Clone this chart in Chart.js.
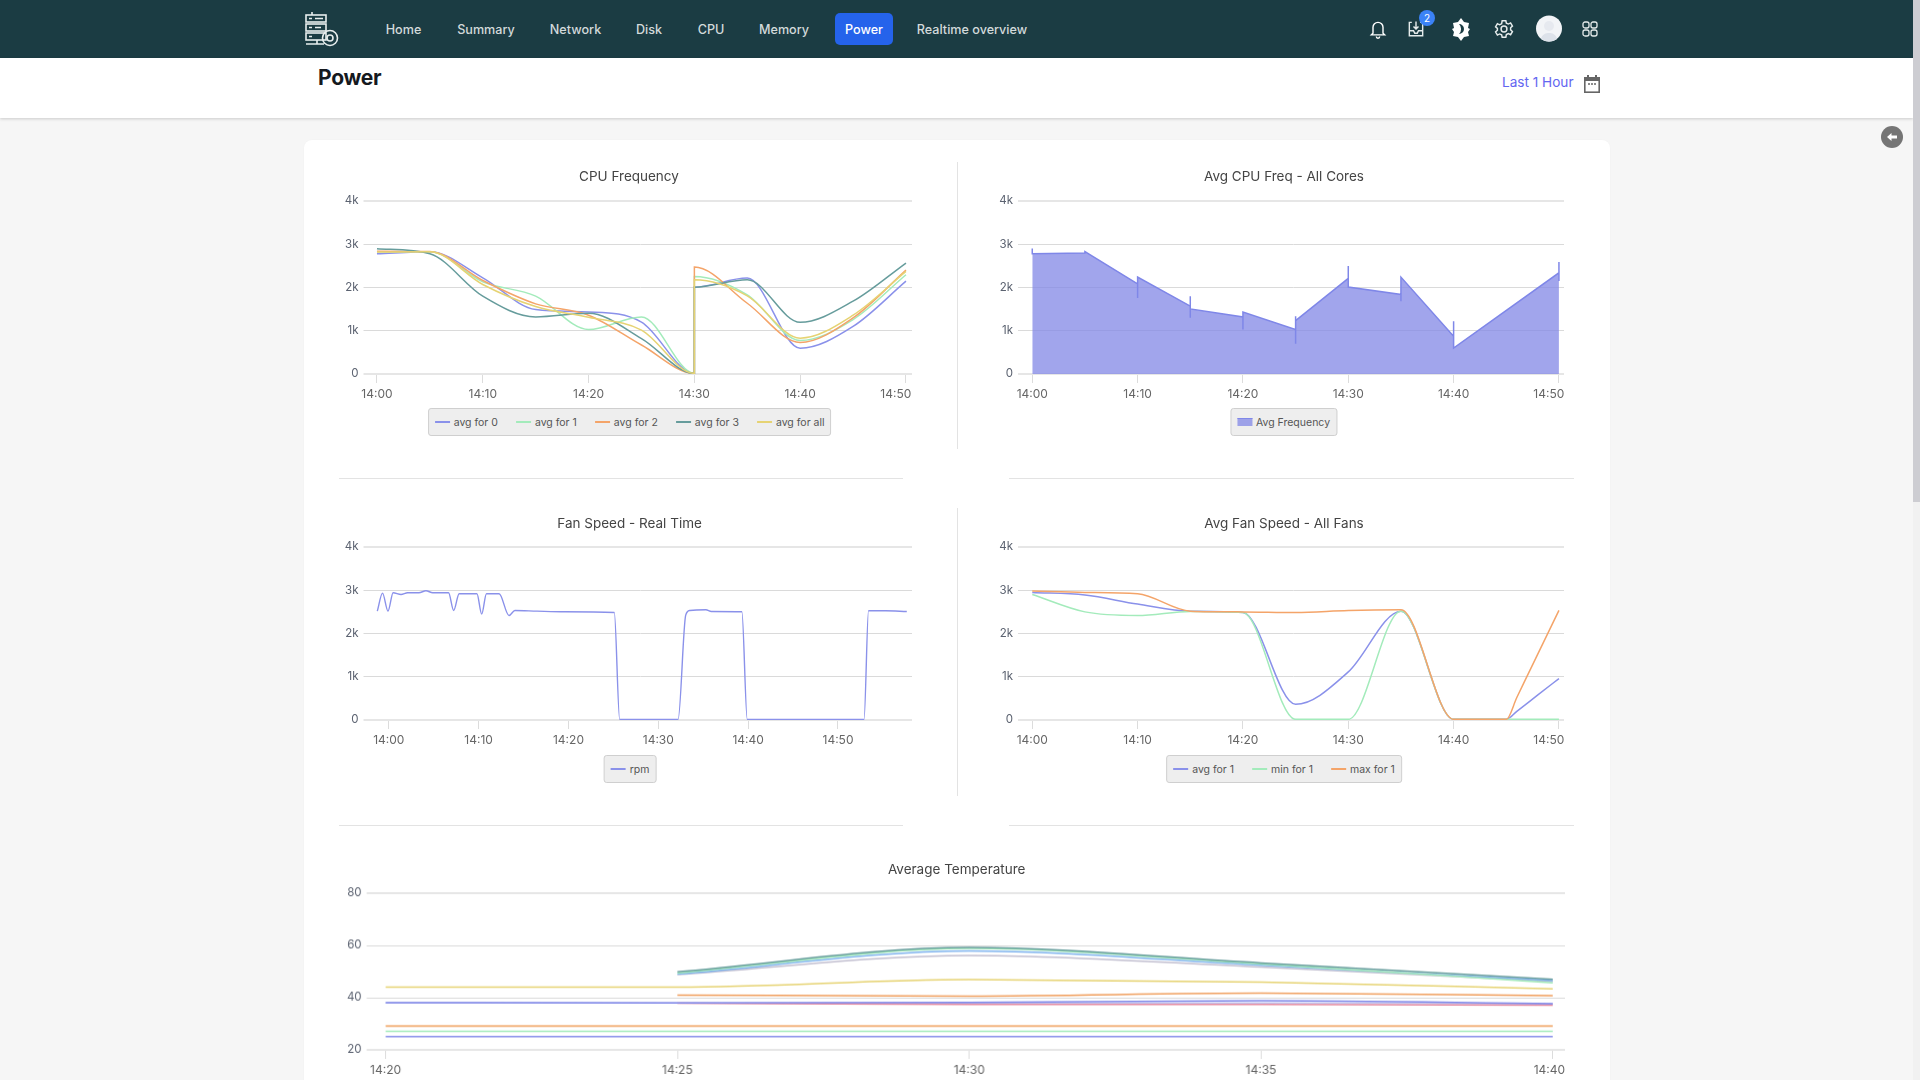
<!DOCTYPE html>
<html>
<head>
<meta charset="utf-8">
<title>Power</title>
<script src="https://cdn.jsdelivr.net/npm/chart.js@4/dist/chart.umd.min.js"></script>
<style>
  html, body { margin: 0; padding: 0; width: 1920px; height: 1080px; overflow: hidden; background: #f6f6f6; font-family: Inter, "Noto Sans", sans-serif; }
  .abs { position: absolute; }
  #nav { left: 0; top: 0; width: 1913px; height: 58px; background: #1b3c43; }
  .nav-item { position: absolute; top: 28.5px; transform: translate(-50%, -50%); color: #d3dadb; font-size: 12.6px; font-weight: 500; white-space: nowrap; }
  #pill { left: 835px; top: 13px; width: 58px; height: 32px; background: #2563eb; border-radius: 5px; }
  #sub { left: 0; top: 58px; width: 1913px; height: 60px; background: #fff; box-shadow: 0 1px 3px rgba(0,0,0,.18); }
  #heading { left: 318px; top: 64.5px; font-size: 21px; font-weight: 700; color: #15191e; letter-spacing: -0.3px; }
  #range { left: 1502px; top: 74px; font-size: 13.6px; color: #6366f1; white-space: nowrap; }
  #card { left: 304px; top: 140px; width: 1306px; height: 960px; background: #fff; border-radius: 8px; box-shadow: 0 0 2px rgba(0,0,0,.03); }
  .vline { width: 1px; background: #e3e3e3; }
  .hline { height: 1px; background: #e3e3e3; }
  canvas { position: absolute; }
  .chart-title { position: absolute; transform: translate(-50%, -50%); font-size: 13.5px; color: #444; white-space: nowrap; }
  .legend { position: absolute; transform: translateX(-50%); height: 26px; display: inline-flex; align-items: center; gap: 18px; padding: 0 6px; background: #eeeeee; border: 1px solid #cfcfcf; border-radius: 3px; font-size: 10.5px; color: #555; white-space: nowrap; }
  .legend span { display: inline-flex; align-items: center; gap: 4px; }
  .legend i { display: inline-block; width: 15px; height: 2px; }
  #sb-track { left: 1913px; top: 0; width: 7px; height: 1080px; background: #f1f1f1; }
  #sb-thumb { left: 1913px; top: 0; width: 7px; height: 502px; background: #cdcdd2; }
</style>
</head>
<body>
<div class="abs" id="nav"></div>
<div class="abs" id="pill"></div>
<div class="abs" id="sub"></div>
<div class="abs" id="heading">Power</div>
<div class="abs" id="range">Last 1 Hour</div>
<div class="abs" id="card"></div>
<div class="abs" id="sb-track"></div>
<div class="abs" id="sb-thumb"></div>

<svg class="abs" style="left:304px;top:10px" width="36" height="38" viewBox="0 0 36 38" fill="none" stroke="#e8eeee" stroke-width="1.6">
  <rect x="2" y="5" width="20" height="7"/><rect x="2" y="14" width="20" height="7"/><rect x="2" y="23" width="20" height="7"/>
  <path d="M5 8.5h3M11 8.5h8M5 17.5h3M11 17.5h6M5 26.5h3"/><path d="M8 5V2M2 34h18M13 30v4"/>
  <circle cx="26" cy="28" r="7.5"/><circle cx="26" cy="28" r="3"/>
</svg>
<svg class="abs" style="left:1368px;top:19px" width="20" height="20" viewBox="0 0 24 24" fill="none" stroke="#fff" stroke-width="1.7">
  <path d="M6 17V10a6 6 0 0 1 12 0v7l2 2H4z"/><path d="M10 21a2 2 0 0 0 4 0"/>
</svg>
<svg class="abs" style="left:1406px;top:19px" width="20" height="20" viewBox="0 0 24 24" fill="none" stroke="#e6ecec" stroke-width="1.7">
  <path d="M7 4H4v16h16V4h-3M4 14h5l1.5 3h3L15 14h5M12 3v9M9 9l3 3 3-3"/>
</svg>
<svg class="abs" style="left:1419px;top:10px" width="16" height="16" viewBox="0 0 16 16">
  <circle cx="8" cy="8" r="8" fill="#3b82f6"/><text x="8" y="11.5" text-anchor="middle" font-size="10" fill="#fff" font-family="Inter">2</text>
</svg>
<svg class="abs" style="left:1450px;top:17px" width="22" height="24" viewBox="0 0 22 24">
  <path d="M11 1l3 4 5 1 -1 5 2 1 -2 3 1 4 -5 1 -3 4 -3-4 -5-1 1-4 -2-3 2-1 -1-5 5-1z" fill="#fff"/>
  <path d="M9 7a5 5 0 0 1 0 10 7 7 0 0 0 0-10z" fill="#1b3c43"/>
</svg>
<svg class="abs" style="left:1493px;top:18px" width="22" height="22" viewBox="0 0 24 24" fill="none" stroke="#e6ecec" stroke-width="1.6">
  <circle cx="12" cy="12" r="3.2"/>
  <path d="M10 3h4l.6 2.6 2.2 1 2.4-1.2 2 3.4-2 1.8v2.4l2 1.8-2 3.4-2.4-1.2-2.2 1L14 21h-4l-.6-2.6-2.2-1-2.4 1.2-2-3.4 2-1.8V11.4l-2-1.8 2-3.4 2.4 1.2 2.2-1z"/>
</svg>
<svg class="abs" style="left:1536px;top:15px" width="26" height="27" viewBox="0 0 26 27">
  <circle cx="13" cy="13.5" r="13" fill="#f2f4f7"/>
  <path d="M5 24c1-5 5-6 8-6s7 1 8 6a13 13 0 0 1-16 0z" fill="#dde2ea"/><circle cx="13" cy="11" r="5" fill="#e6e9ef"/>
</svg>
<svg class="abs" style="left:1582px;top:21px" width="16" height="16" viewBox="0 0 16 16" fill="none" stroke="#e6ecec" stroke-width="1.3">
  <rect x="1" y="1" width="6" height="6" rx="2"/><rect x="9" y="1" width="6" height="6" rx="2"/>
  <rect x="1" y="9" width="6" height="6" rx="2"/><rect x="9" y="9" width="6" height="6" rx="2"/>
</svg>
<svg class="abs" style="left:1583px;top:74px" width="18" height="20" viewBox="0 0 18 20">
  <path d="M1 3h3V1h2v2h6V1h2v2h3v16H1z" fill="#666"/><rect x="2.6" y="7" width="12.8" height="10.4" fill="#fff"/>
  <path d="M5 10h2M8 10h2M11 10h2" stroke="#666" stroke-width="1.4"/>
</svg>
<svg class="abs" style="left:1881px;top:126px" width="22" height="22" viewBox="0 0 22 22">
  <circle cx="11" cy="11" r="11" fill="#757575"/><path d="M6 11l4.5-4v2.6H16v2.8h-5.5V15z" fill="#fff"/>
</svg>

<div class="abs vline" style="left:957px;top:162px;height:287px"></div>
<div class="abs vline" style="left:957px;top:508px;height:288px"></div>
<div class="abs hline" style="left:339px;top:478px;width:564px"></div>
<div class="abs hline" style="left:1009px;top:478px;width:565px"></div>
<div class="abs hline" style="left:339px;top:825px;width:564px"></div>
<div class="abs hline" style="left:1009px;top:825px;width:565px"></div>

<script>
// menu
const navLabels = ["Home", "Summary", "Network", "Disk", "CPU", "Memory", "Power", "Realtime overview"];
const navCenters = [403.5, 486, 575.5, 649, 711, 784, 864, 972];

// cpu frequency, one reading every 5 min, the jump at 14:30 is two readings
const cpuMinutes = [0, 5, 10, 15, 20, 25, 30, 30, 35, 40, 45, 50];
const cpuCore0 = [2780, 2826, 2224, 1490, 1436, 1200, 15, 2008, 2217, 597, 1100, 2147];
const cpuCore1 = [2826, 2826, 2131, 1800, 1027, 1320, 15, 2256, 1830, 775, 1259, 2295];
const cpuCore2 = [2840, 2834, 2162, 1622, 1359, 670, 15, 2473, 1636, 729, 1297, 2403];
const cpuCore3 = [2896, 2780, 1800, 1320, 1405, 820, 15, 2008, 2178, 1194, 1683, 2566];
const cpuAll = [2818, 2826, 2070, 1560, 1313, 1015, 15, 2178, 1806, 829, 1359, 2372];

// avg frequency area, the spikes are repeated minutes
const avgFreqMinutes = [0, 0, 0, 5, 5, 10, 10, 10, 15, 15, 15, 15, 20, 20, 20, 25, 25, 25, 25, 30, 30, 30, 35, 35, 35, 40, 40, 40, 50, 50, 50];
const avgFreqValues = [2900, 2780, 2780, 2800, 2830, 2085, 1760, 2240, 1570, 1800, 1300, 1505, 1320, 1030, 1430, 1030, 700, 1335, 1235, 2210, 2495, 2010, 1840, 1680, 2240, 870, 1220, 600, 2340, 2590, 2150];

// fan speed real time
const rpmMinutes = [-1.28, -0.7, -0.09, 0.48, 1.36, 2.1, 3.35, 4.14, 4.89, 6.65, 7.22, 7.83, 9.81, 10.34, 10.87, 12.28, 13.38, 14.04, 16.5, 19.6, 25.1, 25.7, 32.2, 33.05, 33.5, 35.3, 35.9, 39.3, 39.9, 52.9, 53.4, 55.3, 57.66];
const rpmValues = [2517, 2934, 2517, 2942, 2903, 2942, 2942, 2988, 2942, 2942, 2533, 2919, 2919, 2448, 2919, 2919, 2417, 2533, 2517, 2502, 2486, 15, 15, 2425, 2533, 2548, 2510, 2502, 15, 15, 2525, 2525, 2510];

// avg fan speed
const fanMinutes = [0, 5, 10, 15, 20, 25, 30, 35, 40, 45, 46, 48, 50];
const fanAvg = [2950, 2890, 2680, 2517, 2486, 363, 1112, 2517, 15, 15, 200, 580, 958];
const fanMin = [2903, 2500, 2417, 2510, 2486, 15, 15, 2517, 15, 15, 15, 15, 15];
const fanMax = [2980, 2950, 2919, 2517, 2500, 2486, 2533, 2548, 15, 15, 520, 1530, 2533];

// temperatures
const tempMinutes = [20, 25, 30, 35, 40];
const tempTeal = [null, 49.9, 59.2, 53.3, 47];
const tempGreen = [null, 49.4, 58.8, 52.9, 45.7];
const tempSky = [null, 49, 57.9, 52.4, 46.5];
const tempLilac = [null, 48.8, 56.2, 51.7, 46.2];
const tempYellow = [44, 44, 46.9, 46, 43.4];
const tempOrange = [null, 41, 40.6, 41.7, 40.8];
const tempBlue = [38.1, 38, 38.2, 38.8, 37.7];
const tempPale = [38, 38, 37.8, 38, 37.6];
const tempRed = [null, 37.9, 37.4, 37.4, 37.1];
const tempFlatOrange = [29.1, 29.1, 29.1, 29.1, 29.1];
const tempFlatGreen = [27.1, 27.1, 27.1, 27.1, 27.1];
const tempFlatBlue = [25.1, 25.1, 25.1, 25.1, 25.1];

const BLUE = "#8a91ea";
const GREEN = "#a3ebbb";
const ORANGE = "#f4a469";
const TEAL = "#669c9c";
const YELLOW = "#e6d373";

const zip = (xs, ys) => xs.map((x, i) => ({ x, y: ys[i] }));

navLabels.forEach((label, i) => {
  const el = document.createElement("div");
  el.className = "nav-item";
  el.textContent = label;
  el.style.left = navCenters[i] + "px";
  if (label === "Power") el.style.color = "#fff";
  document.body.appendChild(el);
});

function line(label, xs, ys, color, width) {
  return {
    label,
    data: zip(xs, ys),
    borderColor: color,
    backgroundColor: color,
    borderWidth: width || 1.5,
    pointRadius: 0,
    cubicInterpolationMode: "monotone",
    spanGaps: false,
  };
}

function makeChart(box) {
  const canvas = document.createElement("canvas");
  canvas.width = box.width;
  canvas.height = box.height;
  canvas.style.left = box.left + "px";
  canvas.style.top = box.top + "px";
  canvas.style.width = box.width + "px";
  canvas.style.height = box.height + "px";
  document.body.appendChild(canvas);

  // title sits off the plot centre in the reference, so it is a div and not the chart title
  const heading = document.createElement("div");
  heading.className = "chart-title";
  heading.textContent = box.title;
  heading.style.left = box.titleX + "px";
  heading.style.top = box.top + 15.5 + "px";
  document.body.appendChild(heading);

  // chart.js puts the first dataset on top, the reference has the last one on top
  box.datasets.forEach((ds, i) => { ds.order = -i; });

  const chart = new Chart(canvas, {
    type: "line",
    data: { datasets: box.datasets },
    options: {
      responsive: false,
      animation: false,
      devicePixelRatio: 1,
      layout: { padding: { right: 28, left: 0, top: 40, bottom: 0 } },
      plugins: {
        legend: { display: false },
        tooltip: { enabled: false },
      },
      scales: {
        x: {
          type: "linear",
          min: box.xMin,
          max: box.xMax,
          border: { display: false },
          grid: { drawOnChartArea: false, drawTicks: true, tickLength: 9, color: "#dcdcdc", lineWidth: 1 },
          ticks: {
            stepSize: box.xStep,
            includeBounds: false,
            autoSkip: false,
            maxRotation: 0,
            padding: 4,
            color: "#666",
            font: { family: "Inter", size: 12 },
            callback: (v) => {
              const label = "14:" + String(v).padStart(2, "0");
              return v === box.lastTick ? label + "\u00a0".repeat(box.lastShift) : label;
            },
          },
          afterFit: (scale) => { scale.height = 30; },
        },
        y: {
          min: box.yMin,
          max: box.yMax,
          border: { display: false },
          grid: {
            tickLength: 5,
            color: (ctx) => (ctx.index === 0 || ctx.index === box.yCount - 1 ? "#e6e6e6" : "#dadada"),
            lineWidth: (ctx) => (ctx.index === 0 || ctx.index === box.yCount - 1 ? 2 : 1),
          },
          ticks: {
            stepSize: box.yStep,
            padding: 5,
            color: "#5b6270",
            font: { family: "Inter", size: 11.5 },
            callback: box.yLabel,
          },
          afterFit: (scale) => { scale.width = box.yWidth; },
        },
      },
    },
  });

  if (box.legendX) {
    const legend = document.createElement("div");
    legend.className = "legend";
    legend.style.left = box.legendX + "px";
    legend.style.top = box.legendY + "px";
    chart.data.datasets.forEach((ds) => {
      const item = document.createElement("span");
      const swatch = document.createElement("i");
      swatch.style.background = ds.legendFill || ds.borderColor;
      if (ds.legendFill) {
        swatch.style.height = "7px";
        swatch.style.borderTop = "1px solid " + ds.borderColor;
      }
      item.appendChild(swatch);
      item.appendChild(document.createTextNode(ds.label));
      legend.appendChild(item);
    });
    document.body.appendChild(legend);
  }
  return chart;
}

const kLabel = (v) => (v === 0 ? "0" : v / 1000 + "k");
const rpmAxis = { yMin: 0, yMax: 4000, yStep: 1000, yCount: 5, yLabel: kLabel, xStep: 10, height: 243, lastTick: 50, lastShift: 6 };

makeChart({
  ...rpmAxis, title: "CPU Frequency", titleX: 629, left: 318, top: 160.7, width: 622, yWidth: 50.5,
  xMin: -0.8, xMax: 50.57, legendX: 629.6, legendY: 408,
  datasets: [
    line("avg for 0", cpuMinutes, cpuCore0, BLUE),
    line("avg for 1", cpuMinutes, cpuCore1, GREEN),
    line("avg for 2", cpuMinutes, cpuCore2, ORANGE),
    line("avg for 3", cpuMinutes, cpuCore3, TEAL),
    line("avg for all", cpuMinutes, cpuAll, YELLOW),
  ],
});

makeChart({
  ...rpmAxis, title: "Avg CPU Freq - All Cores", titleX: 1284, left: 976, top: 160.7, width: 616, yWidth: 47,
  xMin: -0.88, xMax: 50.48, legendX: 1283.5, legendY: 408,
  datasets: [{
    label: "Avg Frequency",
    data: zip(avgFreqMinutes, avgFreqValues),
    borderColor: "#7f87e8",
    backgroundColor: "rgba(129,135,230,0.75)",
    legendFill: "rgba(129,135,230,0.75)",
    borderWidth: 1.5,
    pointRadius: 0,
    tension: 0,
    fill: "origin",
  }],
});

makeChart({
  ...rpmAxis, title: "Fan Speed - Real Time", titleX: 629.6, left: 318, top: 507.3, width: 622, yWidth: 50.5,
  xMin: -2.26, xMax: 58.24, lastShift: 0, legendX: 630, legendY: 755,
  datasets: [line("rpm", rpmMinutes, rpmValues, BLUE, 1.4)],
});

makeChart({
  ...rpmAxis, title: "Avg Fan Speed - All Fans", titleX: 1284, left: 976, top: 507.3, width: 616, yWidth: 47,
  xMin: -0.88, xMax: 50.48, legendX: 1284, legendY: 755,
  datasets: [
    line("avg for 1", fanMinutes, fanAvg, BLUE),
    line("min for 1", fanMinutes, fanMin, GREEN),
    line("max for 1", fanMinutes, fanMax, ORANGE),
  ],
});

makeChart({
  title: "Average Temperature", titleX: 956.7, left: 320.4, top: 853.3, width: 1272.6, height: 226.7, yWidth: 51.6,
  xMin: 19.76, xMax: 40.21, xStep: 5, lastTick: 40, lastShift: 2,
  yMin: 20, yMax: 80, yStep: 20, yCount: 4, yLabel: (v) => String(v),
  datasets: [
    line("Core 0", tempMinutes, tempFlatBlue, BLUE),
    line("Core 1", tempMinutes, tempFlatGreen, GREEN),
    line("Core 2", tempMinutes, tempFlatOrange, "#f3b57f", 2),
    line("Core 3", tempMinutes, tempPale, "#c4c8f0"),
    line("Core 4", tempMinutes, tempRed, "#e58aa0"),
    line("Core 5", tempMinutes, tempBlue, "#7f87e8"),
    line("Core 6", tempMinutes, tempOrange, "#f0a060"),
    line("Core 7", tempMinutes, tempYellow, YELLOW),
    line("Core 8", tempMinutes, tempLilac, "#c2bfd0"),
    line("Core 9", tempMinutes, tempSky, "#7fb3ee"),
    line("Core 10", tempMinutes, tempGreen, GREEN),
    line("Core 11", tempMinutes, tempTeal, TEAL),
  ],
});
</script>
</body>
</html>
